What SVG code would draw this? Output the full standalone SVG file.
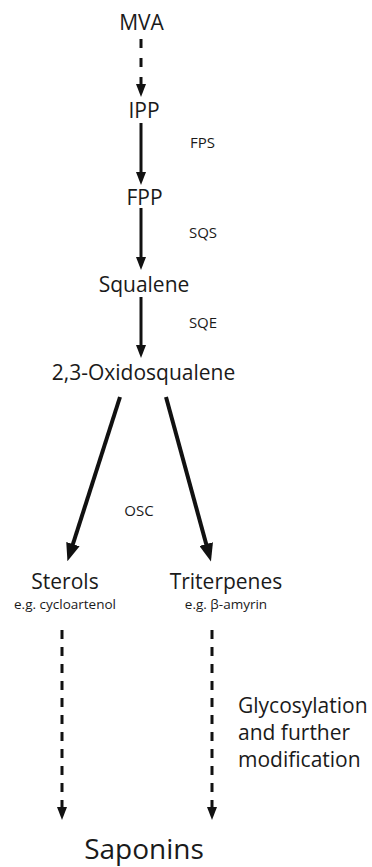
<svg xmlns="http://www.w3.org/2000/svg" width="372" height="867" viewBox="0 0 372 867">
<style>
text{font-family:"Open Sans","Noto Sans",sans-serif;fill:#1a1a1a;text-anchor:middle}
.m{font-size:21px}
.e{font-size:15px}
.s{font-size:13.5px}
.b{font-size:28px}
.g{font-size:21px;text-anchor:start}
.c line{stroke:#111;fill:none}
.v{stroke-width:3}
.d{stroke-width:4}
.da{stroke-dasharray:9 10}
.db{stroke-dasharray:9 8}
</style>
<defs>
<marker id="ah" markerUnits="userSpaceOnUse" markerWidth="14" markerHeight="10" refX="2" refY="5" orient="auto" viewBox="0 0 14 10">
<path d="M0,0 L13,5 L0,10 z" fill="#111"/>
</marker>
<marker id="ahb" markerUnits="userSpaceOnUse" markerWidth="18" markerHeight="14" refX="3" refY="7" orient="auto" viewBox="0 0 18 14">
<path d="M0,0 L18,7 L0,14 z" fill="#111"/>
</marker>
</defs>
<g id="connectors" class="c">
<line class="v da" x1="141" y1="39" x2="141" y2="86" marker-end="url(#ah)"/>
<line class="v" x1="141" y1="123" x2="141" y2="174" marker-end="url(#ah)"/>
<line class="v" x1="141" y1="208" x2="141" y2="259" marker-end="url(#ah)"/>
<line class="v" x1="141" y1="297" x2="141" y2="347" marker-end="url(#ah)"/>
<line class="d" x1="120" y1="397" x2="72" y2="547" marker-end="url(#ahb)"/>
<line class="d" x1="166" y1="397" x2="207" y2="547" marker-end="url(#ahb)"/>
<line class="v db" x1="62" y1="630" x2="62" y2="809" marker-end="url(#ah)"/>
<line class="v db" x1="212" y1="630" x2="212" y2="809" marker-end="url(#ah)"/>
</g>
<g id="MVA"><text class="m" x="141.5" y="30">MVA</text></g>
<g id="IPP"><text class="m" x="144" y="118">IPP</text></g>
<g id="FPS"><text class="e" x="202.5" y="148">FPS</text></g>
<g id="FPP"><text class="m" x="144.5" y="205">FPP</text></g>
<g id="SQS"><text class="e" x="203" y="238">SQS</text></g>
<g id="Squalene"><text class="m" x="144" y="292">Squalene</text></g>
<g id="SQE"><text class="e" x="203" y="328">SQE</text></g>
<g id="Oxidosqualene"><text class="m" x="143.5" y="380">2,3-Oxidosqualene</text></g>
<g id="OSC"><text class="e" x="139" y="516">OSC</text></g>
<g id="Sterols"><text class="m" x="65" y="589">Sterols</text><text class="s" x="65" y="609">e.g. cycloartenol</text></g>
<g id="Triterpenes"><text class="m" x="226" y="589">Triterpenes</text><text class="s" x="226" y="609">e.g. β-amyrin</text></g>
<g id="Glycosylation"><text class="g" x="238" y="713">Glycosylation</text><text class="g" x="238" y="740">and further</text><text class="g" x="238" y="767">modification</text></g>
<g id="Saponins"><text class="b" x="144" y="859">Saponins</text></g>
</svg>
